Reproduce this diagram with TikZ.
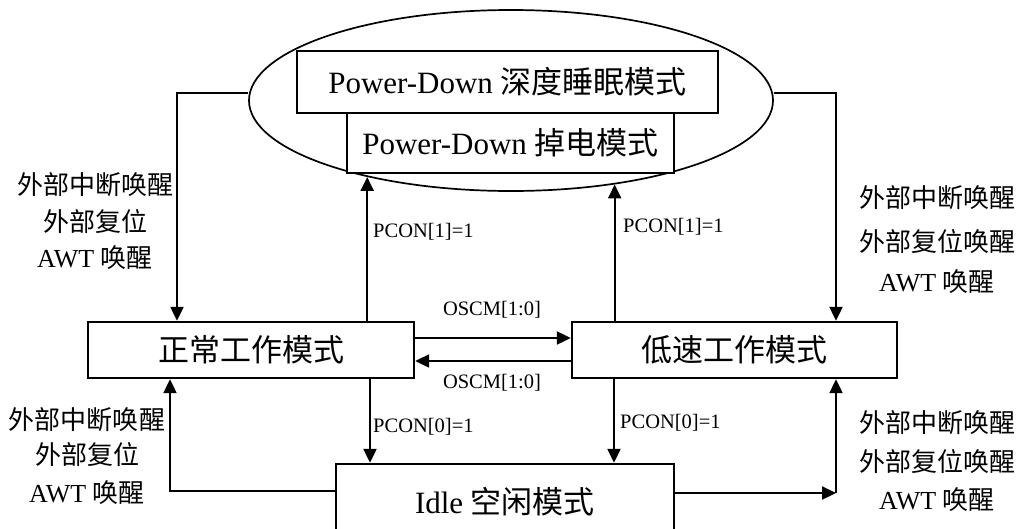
\documentclass[tikz,border=0pt]{standalone}
\usepackage{fontspec}
\setmainfont{Liberation Serif}
\newfontfamily\cjk{Noto Sans CJK SC}
\usetikzlibrary{shapes.geometric,arrows.meta}
\newcommand{\zh}[1]{{\cjk #1}}
\begin{document}
\begin{tikzpicture}[x=1pt,y=-1pt,
  modebox/.style={draw,line width=2.4pt,fill=white,rectangle,inner sep=0pt,font=\fontsize{31}{33}\selectfont},
  arr/.style={line width=2.2pt,-{Triangle[length=14pt,width=13pt]}},
  plainline/.style={line width=2.2pt},
  cond/.style={font=\fontsize{20.5}{22}\selectfont,inner sep=0pt},
  side/.style={font=\fontsize{26}{28}\selectfont,inner sep=0pt}]
\clip (0,0) rectangle (1022,528);
% sleep states
\node[draw,ellipse,line width=1.7pt,minimum width=524pt,minimum height=181pt,inner sep=0pt] (pd) at (511,100.5) {};
\node[modebox,minimum width=327pt,minimum height=60pt] (pdn) at (510.5,143) {Power-Down \zh{掉电模式}};
\node[modebox,minimum width=421pt,minimum height=62pt] (pds) at (507.5,82) {Power-Down \zh{深度睡眠模式}};
% working modes
\node[modebox,minimum width=326pt,minimum height=56pt] (nor) at (251,350) {\zh{正常工作模式}};
\node[modebox,minimum width=325pt,minimum height=56pt] (low) at (734.5,350) {\zh{低速工作模式}};
\node[modebox,minimum width=338pt,minimum height=76pt] (idle) at (505,502) {Idle \zh{空闲模式}};
% helper coordinates
\coordinate (tlx) at (177,0);
\coordinate (trx) at (836,0);
\coordinate (o1) at (0,338);
\coordinate (o2) at (0,361);
\coordinate (d1) at (370,0);
\coordinate (d2) at (614,0);
\coordinate (blc) at (170,491);
\coordinate (brc) at (836,493);
% connectors
\draw[arr] (pd.west |- 0,93) -| (nor.north -| tlx);
\draw[arr] (pd.east |- 0,93) -| (low.north -| trx);
\draw[arr] (pd.208.2 |- nor.north) -- (pd.208.2);
\draw[arr] (pd.321.1 |- low.north) -- (pd.321.1);
\draw[arr] (nor.east |- o1) -- (low.west |- o1);
\draw[arr] (low.west |- o2) -- (nor.east |- o2);
\draw[arr] (nor.south -| d1) -- (idle.north -| d1);
\draw[arr] (low.south -| d2) -- (idle.north -| d2);
\draw[arr] (idle.west |- blc) -| (nor.south -| blc);
\draw[arr] (idle.east |- brc) -- (brc);
\draw[arr] (brc) -- (low.south -| brc);
% conditions
\node[cond,anchor=west] (c1) at (373,232) {PCON[1]=1};
\node[cond,anchor=west] (c2) at (623,227) {PCON[1]=1};
\node[cond] (c3) at (492,310) {OSCM[1:0]};
\node[cond] (c4) at (492,383) {OSCM[1:0]};
\node[cond,anchor=west] (c5) at (373,427) {PCON[0]=1};
\node[cond,anchor=west] (c6) at (620,423) {PCON[0]=1};
% wake-up sources
\node[side] (l1) at (95,185) {\zh{外部中断唤醒}};
\node[side] (l2) at (95,222) {\zh{外部复位}};
\node[side] (l3) at (95,258) {AWT \zh{唤醒}};
\node[side] (r1) at (937,198) {\zh{外部中断唤醒}};
\node[side] (r2) at (937,242) {\zh{外部复位唤醒}};
\node[side] (r3) at (937,282) {AWT \zh{唤醒}};
\node[side] (l4) at (87,420) {\zh{外部中断唤醒}};
\node[side] (l5) at (87,455) {\zh{外部复位}};
\node[side] (l6) at (87,493) {AWT \zh{唤醒}};
\node[side] (r4) at (937,423) {\zh{外部中断唤醒}};
\node[side] (r5) at (937,462) {\zh{外部复位唤醒}};
\node[side] (r6) at (937,500) {AWT \zh{唤醒}};
\end{tikzpicture}
\end{document}
